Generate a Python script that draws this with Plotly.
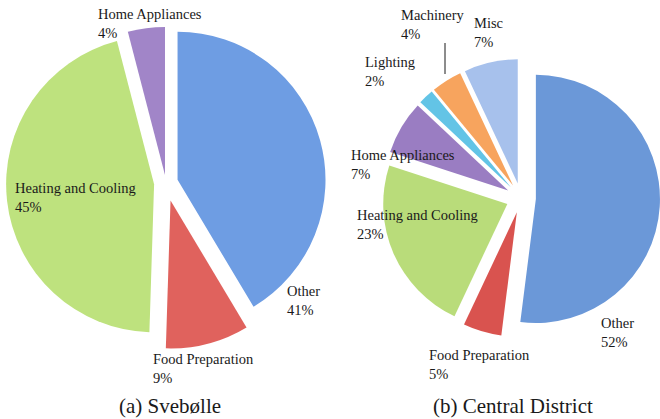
import plotly.graph_objects as go

W, H = 660, 419

# Data
left_labels = ["Other", "Food Preparation", "Heating and Cooling", "Home Appliances"]
left_values = [41, 9, 45, 4]
left_pull = [0.081, 0.122, 0.081, 0.054]
left_colors = ["#6E9DE3", "#E0625D", "#BEE27E", "#A185C8"]

right_labels = ["Other", "Food Preparation", "Heating and Cooling", "Home Appliances",
                "Lighting", "Machinery", "Misc"]
right_values = [52, 5, 23, 7, 2, 4, 7]
right_pull = [0.12, 0.12, 0.12, 0.12, 0.12, 0.12, 0.12]
right_colors = ["#6B98D8", "#D9534F", "#B9DC7A", "#9A7DC2", "#63C4E6", "#F7A45E", "#A7C1EC"]

captions = ["(a) Svebølle", "(b) Central District"]

# label anchor positions in pixels (left, top)
left_label_pos = {
    "Other": (285, 281),
    "Food Preparation": (151, 349),
    "Heating and Cooling": (13, 178),
    "Home Appliances": (96, 4),
}
right_label_pos = {
    "Other": (599, 313),
    "Food Preparation": (427, 345),
    "Heating and Cooling": (355, 205),
    "Home Appliances": (349, 145),
    "Lighting": (363, 52),
    "Machinery": (399, 5),
    "Misc": (472, 13),
}


def px_x(x):
    return x / W


def px_y(y):
    return 1 - y / H


fig = go.Figure()
fig.add_trace(go.Pie(
    labels=left_labels, values=left_values, pull=left_pull,
    marker=dict(colors=left_colors, line=dict(width=0)),
    sort=False, direction="clockwise", rotation=0,
    textinfo="none", hoverinfo="label+percent", showlegend=False,
    domain=dict(x=[px_x(0), px_x(332)], y=[px_y(366), px_y(0)]),
))
fig.add_trace(go.Pie(
    labels=right_labels, values=right_values, pull=right_pull,
    marker=dict(colors=right_colors, line=dict(width=0)),
    sort=False, direction="clockwise", rotation=0,
    textinfo="none", hoverinfo="label+percent", showlegend=False,
    domain=dict(x=[px_x(382), px_x(660)], y=[px_y(368), px_y(28)]),
))

font = dict(family="Liberation Serif, Times New Roman, serif", size=14.5, color="#1a1a1a")
annotations = []
for labels, values, pos in ((left_labels, left_values, left_label_pos),
                            (right_labels, right_values, right_label_pos)):
    for lab, val in zip(labels, values):
        x, y = pos[lab]
        annotations.append(dict(
            text=f"{lab}<br>{val}%", x=px_x(x), y=px_y(y), xref="paper", yref="paper",
            xanchor="left", yanchor="top", align="left", showarrow=False, font=font))

cap_font = dict(family="Liberation Serif, Times New Roman, serif", size=21, color="#1a1a1a")
annotations.append(dict(text=captions[0], x=px_x(170), y=px_y(406), xref="paper", yref="paper",
                        xanchor="center", yanchor="middle", showarrow=False, font=cap_font))
annotations.append(dict(text=captions[1], x=px_x(513), y=px_y(406), xref="paper", yref="paper",
                        xanchor="center", yanchor="middle", showarrow=False, font=cap_font))

shapes = [dict(type="line", xref="paper", yref="paper",
               x0=px_x(445), x1=px_x(445), y0=px_y(43), y1=px_y(74),
               line=dict(color="#1a1a1a", width=1))]

fig.update_layout(
    width=W, height=H, margin=dict(l=0, r=0, t=0, b=0),
    paper_bgcolor="white", plot_bgcolor="white",
    annotations=annotations, shapes=shapes,
)

fig.write_html("out.html", config={"displayModeBar": False},
               post_script="document.body.style.margin='0';document.body.style.overflow='hidden';")
